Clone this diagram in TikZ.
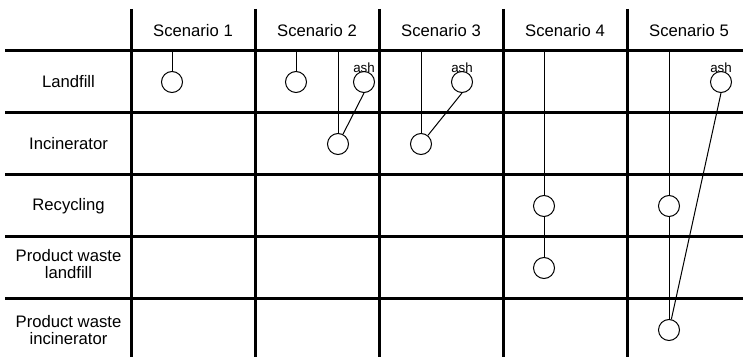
\documentclass[tikz,border=0pt]{standalone}
\usepackage{fontspec}
\setmainfont{Liberation Sans}
\usetikzlibrary{positioning}
\newcommand{\tikzash}[2]{\node[stage] (#1) at (#2) {}; \node[ashlabel, above=-1.2pt of #1] (#1t) {ash};}
\tikzset{
  stage/.style={circle, draw=black, line width=0.6pt, minimum size=12.6pt, inner sep=0pt},
  ashlabel/.style={inner sep=0pt, font=\fontsize{8}{9}\selectfont},
  rowhead/.style={align=center, inner sep=0pt, font=\fontsize{10}{10.5}\selectfont},
  colhead/.style={inner sep=0pt, font=\fontsize{10}{12}\selectfont},
  tableline/.style={line width=1.8pt},
  flow/.style={line width=0.6pt}
}

\begin{document}
\begin{tikzpicture}[x=0.6pt, y=-0.6pt]
  \useasboundingbox (0,0) rectangle (743,357);
  % table
  \foreach \y in {51,113,175,237,299} \draw[tableline] (5,\y) -- (743,\y);
  \foreach \x in {131,255,379,503,627} \draw[tableline] (\x,9) -- (\x,357);
  \foreach \n in {1,...,5} \node[colhead] (sc\n) at ({69+124*\n},31) {Scenario \n};
  \node[rowhead] (landfill) at (68.5,82) {Landfill};
  \node[rowhead] (incin) at (68.5,144) {Incinerator};
  \node[rowhead] (recyc) at (68.5,206) {Recycling};
  \node[rowhead] (pwland) at (68.5,264) {Product waste\\landfill};
  \node[rowhead] (pwinc) at (68.5,330) {Product waste\\incinerator};
  % scenario 1
  \coordinate (top1) at (172,51);
  \node[stage] (l1) at (172,82) {};
  \draw[flow] (top1) -- (l1);
  % scenario 2
  \coordinate (top2) at (296,51); \coordinate (top2b) at (338,51);
  \node[stage] (l2) at (296,82) {};
  \tikzash{a2}{364,82}
  \node[stage] (i2) at (338,144) {};
  \draw[flow] (top2) -- (l2); \draw[flow] (top2b) -- (i2); \draw[flow] (a2.south) -- (i2);
  % scenario 3
  \coordinate (top3) at (421,51);
  \tikzash{a3}{462,82}
  \node[stage] (i3) at (421,144) {};
  \draw[flow] (top3) -- (i3); \draw[flow] (a3.south) -- (i3);
  % scenario 4
  \coordinate (top4) at (544,51);
  \node[stage] (r4) at (544,206) {};
  \node[stage] (p4) at (544,268) {};
  \draw[flow] (top4) -- (r4); \draw[flow] (r4) -- (p4);
  % scenario 5
  \coordinate (top5) at (669,51);
  \tikzash{a5}{721,82}
  \node[stage] (r5) at (669,206) {};
  \node[stage] (q5) at (669,330) {};
  \draw[flow] (top5) -- (r5); \draw[flow] (r5) -- (q5); \draw[flow] (a5.south) -- (q5);
\end{tikzpicture}
\end{document}
